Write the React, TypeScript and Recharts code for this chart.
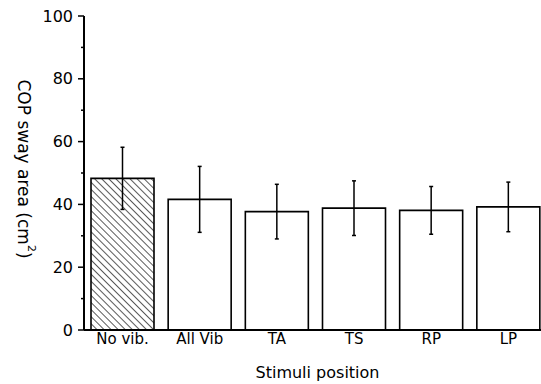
import React from "react";
import { BarChart, Bar, XAxis, YAxis, ErrorBar, Cell } from "recharts";

const positions = ["No vib.", "All Vib", "TA", "TS", "RP", "LP"];
const swayArea = [48.3, 41.6, 37.7, 38.8, 38.1, 39.2];
const swayErr = [9.9, 10.5, 8.7, 8.7, 7.6, 7.9];
const yTicks = [0, 10, 20, 30, 40, 50, 60, 70, 80, 90, 100];

const data = positions.map((p, i) => ({ pos: p, area: swayArea[i], err: swayErr[i] }));

const FONT = "DejaVu Sans";

const YTick = (props: any) => {
    const { x, y, payload } = props;
    const axisX = x + 11;
    const major = payload.value % 20 === 0;
    return (
        <g>
            <line x1={axisX - (major ? 6 : 3)} y1={y} x2={axisX} y2={y} stroke="#000" strokeWidth={1.5} />
            {major && (
                <text x={x} y={y} dy={5.5} textAnchor="end" fontFamily={FONT} fontSize={16} fill="#000">
                    {payload.value}
                </text>
            )}
        </g>
    );
};

const YTitle = () => (
    <text x={24} y={169} textAnchor="middle" dominantBaseline="central" fontFamily={FONT} fontSize={17}
        fill="#000" transform="rotate(90 24 169)">
        COP sway area (cm<tspan fontSize={11} dy={-8}>2</tspan><tspan dy={8}>)</tspan>
    </text>
);

const XTitle = (props: any) => {
    const { viewBox } = props;
    return (
        <text x={viewBox.x + viewBox.width / 2 + 2} y={378} textAnchor="middle" fontFamily={FONT} fontSize={16} fill="#000">
            Stimuli position
        </text>
    );
};

const App = () => {
    return (
        <div style={{ position: "absolute", left: 0, top: 0, width: 541, height: 384, overflow: "hidden", background: "#fff" }}>
            <BarChart width={548} height={384} data={data} margin={{ top: 16, right: 1, bottom: 24, left: 40 }} barSize={63}>
                <defs>
                    <pattern id="hatch" width="5" height="5" patternUnits="userSpaceOnUse" patternTransform="rotate(-45)">
                        <line x1="0" y1="0" x2="0" y2="5" stroke="#000" strokeWidth={1.3} />
                    </pattern>
                </defs>
                <XAxis dataKey="pos" height={30} tickLine={false} tickSize={0} tickMargin={3}
                    axisLine={{ stroke: "#000", strokeWidth: 2 }}
                    tick={{ fill: "#000", fontFamily: FONT, fontSize: 15 }}
                    label={<XTitle />} />
                <YAxis domain={[0, 100]} ticks={yTicks} interval={0} width={44} tickSize={6} tickMargin={5}
                    tickLine={false} axisLine={{ stroke: "#000", strokeWidth: 2 }}
                    tick={<YTick />} label={<YTitle />} />
                <Bar dataKey="area" stroke="#000" strokeWidth={1.6} isAnimationActive={false}>
                    {data.map((d, i) => (
                        <Cell key={d.pos} fill={i === 0 ? "url(#hatch)" : "#fff"} />
                    ))}
                    <ErrorBar dataKey="err" width={2} stroke="#000" strokeWidth={1.5} />
                </Bar>
            </BarChart>
        </div>
    );
};

export default App;
